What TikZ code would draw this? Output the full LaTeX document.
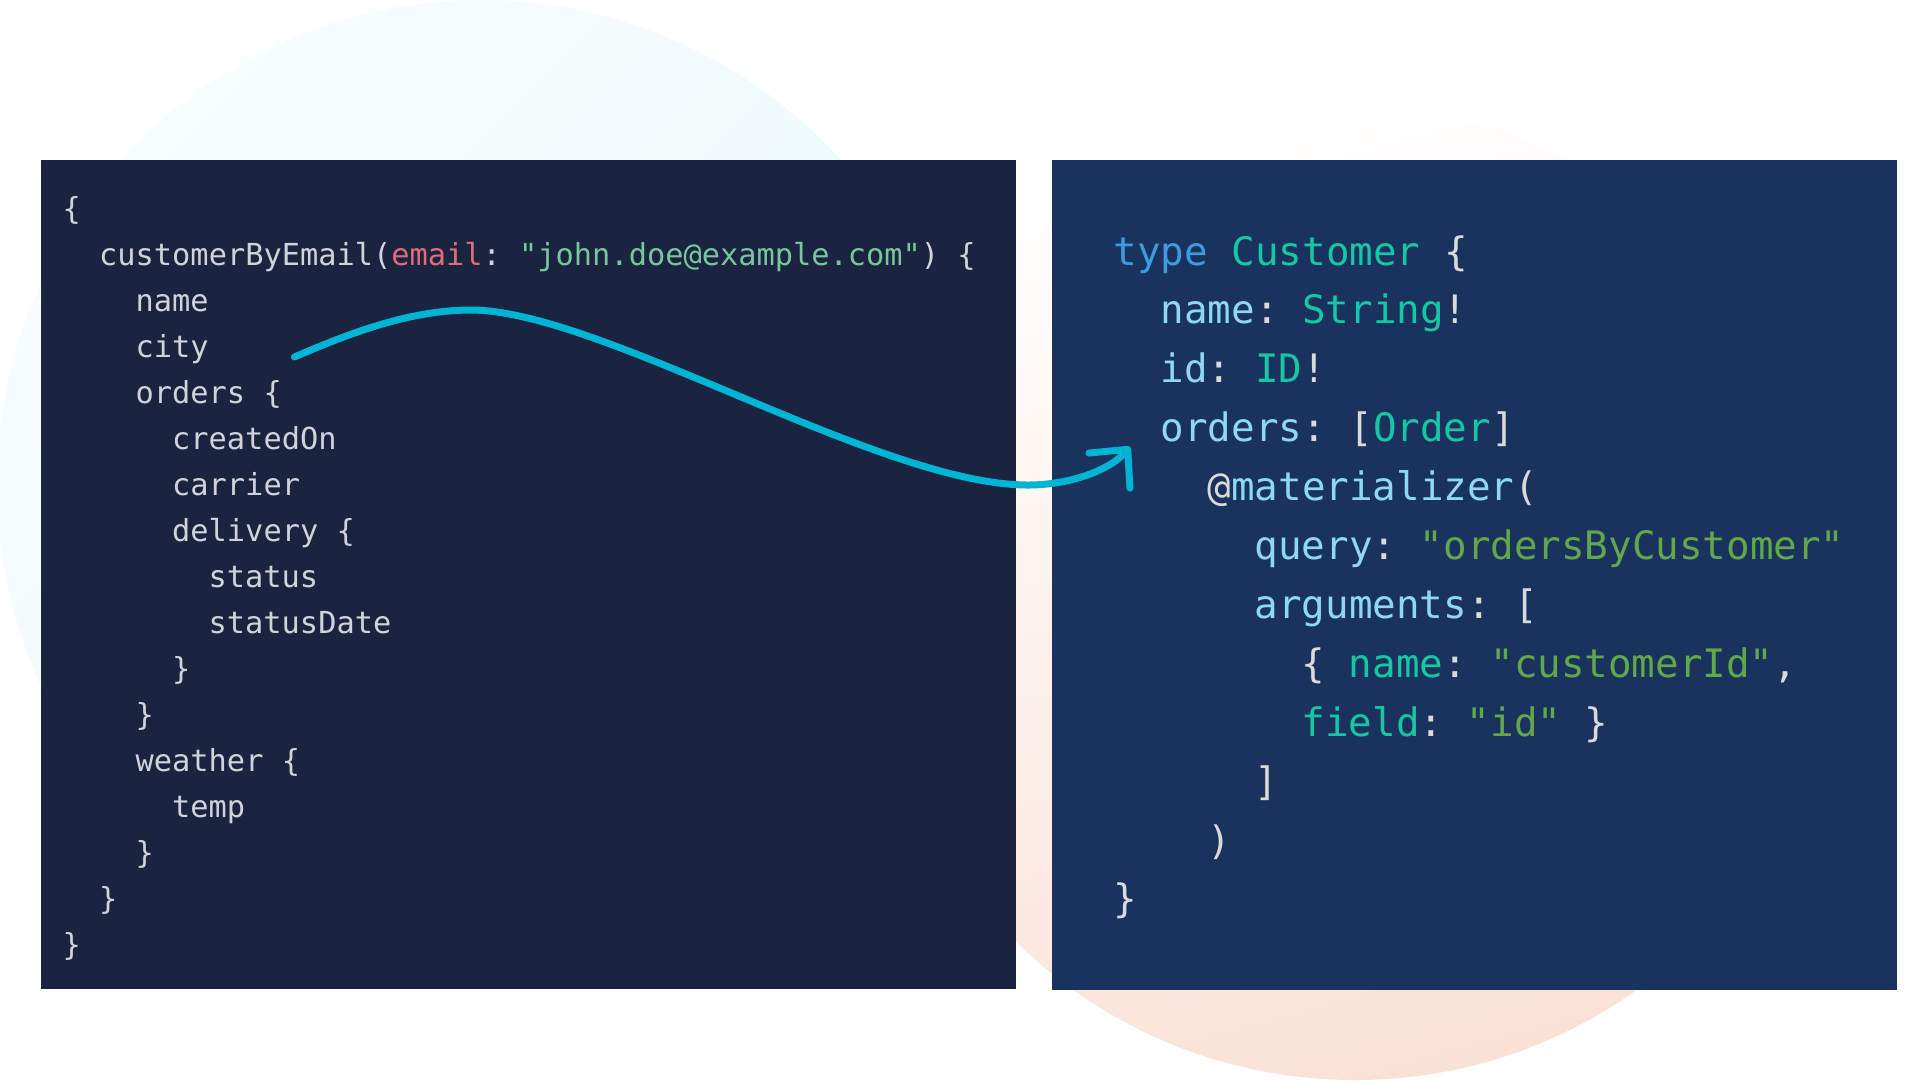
\documentclass[tikz,border=0pt]{standalone}
\usepackage{fontspec}
\usepackage{tikz}
\usetikzlibrary{arrows.meta,calc}
\newfontfamily\codefont{DejaVu Sans Mono}
\definecolor{qbg}{HTML}{1A2440}
\definecolor{sbg}{HTML}{1A335E}
\definecolor{qtext}{HTML}{D0D3D9}
\definecolor{qred}{HTML}{E06C75}
\definecolor{qgreen}{HTML}{79C69A}
\definecolor{skey}{HTML}{3D9BE0}
\definecolor{stype}{HTML}{14C8A6}
\definecolor{sfield}{HTML}{8ED8F2}
\definecolor{spunct}{HTML}{DADADA}
\definecolor{sstring}{HTML}{62A84A}
\definecolor{arrowc}{HTML}{00B4D4}
\definecolor{cyanA}{HTML}{F8FDFE}
\definecolor{cyanB}{HTML}{E6F7FA}
\definecolor{peachB}{HTML}{FAE1D6}
\newcommand{\qcode}{\codefont\frenchspacing\fontsize{8.63}{10}\selectfont}
\newcommand{\scode}{\codefont\frenchspacing\fontsize{11.15}{13}\selectfont}

\begin{document}
\frenchspacing
\begin{tikzpicture}[x=0.1mm, y=-0.1mm,
  qline/.style={anchor=base west, inner sep=0pt, text=qtext, font=\qcode},
  sline/.style={anchor=base west, inner sep=0pt, text=spunct, font=\scode},
  mapline/.style={line width=0.7mm, draw=arrowc, line cap=round,
    -{Straight Barb[length=2.8mm, width=5.4mm, round]}}]
  \useasboundingbox (0,0) rectangle (1920,1080);
  \fill[white] (0,0) rectangle (1920,1080);
  % Background blobs
  \shade[top color=cyanA, bottom color=cyanB, shading angle=45]
    (481,484) circle[radius=48.4mm];
  \shade[top color=white, middle color=white!55!peachB, bottom color=peachB, shading angle=15]
    (1355,595) circle[radius=48.5mm];
  % Panels
  \fill[qbg] (41,160) rectangle (1016,989);
  \fill[sbg] (1052,160) rectangle (1897,990);
  % Query (left)
  \node[qline] (qopen)    at (62,219)    {\{};
  \node[qline] (qcust)    at (98.5,265)  {customerByEmail(\textcolor{qred}{email}: \textcolor{qgreen}{"john.doe@example.com"}) \{};
  \node[qline] (qname)    at (135,311)   {name};
  \node[qline] (city)     at (135,357)   {city};
  \node[qline] (qorders)  at (135,403)   {orders \{};
  \node[qline] (qcreated) at (171.5,449) {createdOn};
  \node[qline] (qcarrier) at (171.5,495) {carrier};
  \node[qline] (qdeliv)   at (171.5,541) {delivery \{};
  \node[qline] (qstatus)  at (208,587)   {status};
  \node[qline] (qsdate)   at (208,633)   {statusDate};
  \node[qline] (qdclose)  at (171.5,679) {\}};
  \node[qline] (qoclose)  at (135,725)   {\}};
  \node[qline] (qweather) at (135,771)   {weather \{};
  \node[qline] (qtemp)    at (171.5,817) {temp};
  \node[qline] (qwclose)  at (135,863)   {\}};
  \node[qline] (qcclose)  at (98.5,909)  {\}};
  \node[qline] (qclose)   at (62,955)    {\}};
  % Schema (right)
  \node[sline] (stype)   at (1113,265)   {\textcolor{skey}{type} \textcolor{stype}{Customer} \{};
  \node[sline] (sname)   at (1160,323.9) {\textcolor{sfield}{name}: \textcolor{stype}{String}!};
  \node[sline] (sid)     at (1160,382.8) {\textcolor{sfield}{id}: \textcolor{stype}{ID}!};
  \node[sline] (rorders) at (1160,441.7) {\textcolor{sfield}{orders}: [\textcolor{stype}{Order}]};
  \node[sline] (smat)    at (1207,500.6) {@\textcolor{sfield}{materializer}(};
  \node[sline] (squery)  at (1254,559.5) {\textcolor{sfield}{query}: \textcolor{sstring}{"ordersByCustomer"}};
  \node[sline] (sargs)   at (1254,618.4) {\textcolor{sfield}{arguments}: [};
  \node[sline] (sarg)    at (1301,677.3) {\{ \textcolor{stype}{name}: \textcolor{sstring}{"customerId"},};
  \node[sline] (sfield)  at (1301,736.2) {\textcolor{stype}{field}: \textcolor{sstring}{"id"} \}};
  \node[sline] (sbrack)  at (1254,795.1) {]};
  \node[sline] (sparen)  at (1207,854)   {)};
  \node[sline] (sclose)  at (1113,912.9) {\}};
  % Mapping arrow
  \coordinate (arrfrom) at ($(city.base east)+(85,0)$);
  \coordinate (arrto) at ($(rorders.base west)+(-30,5)$);
  \draw[mapline] (arrfrom) .. controls (350,333) and (410,310) .. (471,310)
    .. controls (600,310) and (880,485) .. (1028,485)
    .. controls (1070,485) and (1110,470) .. (arrto);
\end{tikzpicture}
\end{document}
